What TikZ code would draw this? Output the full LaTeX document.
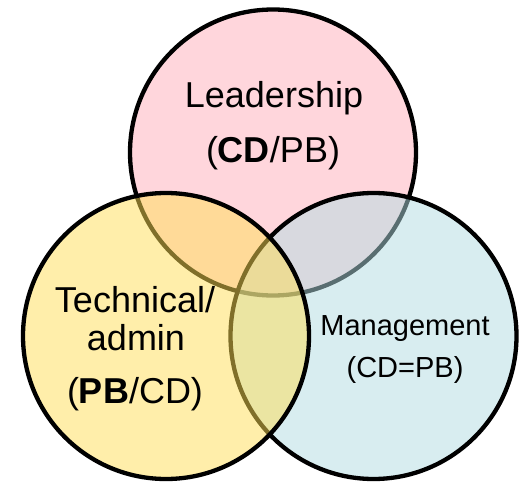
\documentclass[tikz,border=0pt]{standalone}
\usepackage{fontspec}
\setmainfont{Liberation Sans}
\definecolor{pinkfill}{RGB}{255,214,220}
\definecolor{bluefill}{RGB}{178,220,226}
\definecolor{yellowfill}{RGB}{255,222,85}
\begin{document}
\begin{tikzpicture}[x=1pt,y=-1pt,
  circ/.style={draw=black,line width=4.3pt},
  big/.style={anchor=base,inner sep=0pt,font=\fontsize{36}{40}\selectfont},
  small/.style={anchor=base,inner sep=0pt,font=\fontsize{29}{32}\selectfont}]
\useasboundingbox (0,0) rectangle (524,484);
\path[circ,fill=pinkfill] (273,152.5) circle[radius=143];
\path[circ,fill=bluefill,fill opacity=0.5] (373.5,336) circle[radius=143];
\path[circ,fill=yellowfill,fill opacity=0.5] (166,336) circle[radius=143];
\node[big] (lead1) at (274,108) {Leadership};
\node[big] (lead2) at (273,162) {(\textbf{CD}/PB)};
\node[big] (tech1) at (135,312) {Technical/};
\node[big] (tech2) at (136,350) {admin};
\node[big] (tech3) at (135,403) {(\textbf{PB}/CD)};
\node[small] (man1) at (405,335) {Management};
\node[small] (man2) at (405,377) {(CD=PB)};
\end{tikzpicture}
\end{document}
